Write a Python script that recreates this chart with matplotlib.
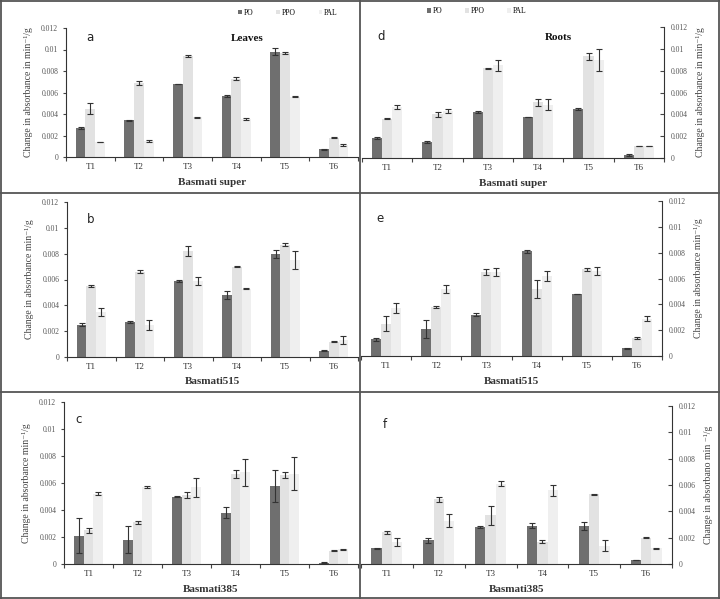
import numpy as np
import matplotlib.pyplot as plt
from matplotlib.lines import Line2D

treatments = ['T1', 'T2', 'T3', 'T4', 'T5', 'T6']
series = ['PO', 'PPO', 'PAL']
yticks = [0, 0.002, 0.004, 0.006, 0.008, 0.01, 0.012]
ytick_labels = ['0', '0.002', '0.004', '0.006', '0.008', '0.01', '0.012']

# a: leaves, Basmati super
a_po = [0.0027, 0.0034, 0.0068, 0.0057, 0.0098, 0.0007]
a_ppo = [0.0045, 0.0069, 0.0094, 0.0073, 0.0097, 0.0018]
a_pal = [0.0014, 0.0015, 0.0037, 0.0035, 0.0056, 0.0011]
a_po_err = [0.0001, 0.00003, 0.00003, 0.0001, 0.0003, 0.00003]
a_ppo_err = [0.0005, 0.0002, 0.0001, 0.0001, 0.0001, 0.00005]
a_pal_err = [0.00003, 0.0001, 0.00005, 0.0001, 0.00003, 0.0001]

# b: leaves, Basmati515
b_po = [0.0025, 0.0027, 0.0059, 0.0048, 0.0080, 0.0005]
b_ppo = [0.0055, 0.0066, 0.0082, 0.0070, 0.0087, 0.0012]
b_pal = [0.0035, 0.0025, 0.0059, 0.0053, 0.0075, 0.0013]
b_po_err = [0.0001, 0.0001, 0.0001, 0.0003, 0.0003, 0.00003]
b_ppo_err = [0.0001, 0.0001, 0.0004, 0.00003, 0.0001, 0.00005]
b_pal_err = [0.0003, 0.0004, 0.0003, 0.00003, 0.0007, 0.0003]

# c: leaves, Basmati385
c_po = [0.0021, 0.0018, 0.0050, 0.0038, 0.0058, 0.0001]
c_ppo = [0.0025, 0.0031, 0.0051, 0.0067, 0.0066, 0.0010]
c_pal = [0.0052, 0.0057, 0.0057, 0.0068, 0.0067, 0.0011]
c_po_err = [0.0013, 0.0010, 0.00003, 0.0004, 0.0012, 0.00003]
c_ppo_err = [0.0002, 0.0001, 0.0002, 0.0003, 0.0002, 0.00003]
c_pal_err = [0.0001, 0.00005, 0.0007, 0.0010, 0.0012, 0.00003]

# d: roots, Basmati super
d_po = [0.0018, 0.0015, 0.0042, 0.0038, 0.0045, 0.0003]
d_ppo = [0.0036, 0.0040, 0.0082, 0.0051, 0.0093, 0.0011]
d_pal = [0.0047, 0.0043, 0.0085, 0.0049, 0.0090, 0.0011]
d_po_err = [0.0001, 0.0001, 0.0001, 0.0, 0.0001, 0.0001]
d_ppo_err = [0.00003, 0.0002, 0.00005, 0.0003, 0.0003, 0.00003]
d_pal_err = [0.0002, 0.0002, 0.0005, 0.0005, 0.0010, 0.00003]

# e: roots, Basmati515
e_po = [0.0013, 0.0021, 0.0032, 0.0081, 0.0048, 0.0006]
e_ppo = [0.0025, 0.0038, 0.0065, 0.0052, 0.0067, 0.0014]
e_pal = [0.0037, 0.0052, 0.0065, 0.0062, 0.0066, 0.0029]
e_po_err = [0.0001, 0.0007, 0.0001, 0.0001, 0.00003, 0.00003]
e_ppo_err = [0.0006, 0.0001, 0.0002, 0.0007, 0.0001, 0.0001]
e_pal_err = [0.0004, 0.0003, 0.0003, 0.0004, 0.0003, 0.0002]

# f: roots, Basmati385
f_po = [0.0012, 0.0018, 0.0028, 0.0029, 0.0029, 0.0003]
f_ppo = [0.0024, 0.0049, 0.0037, 0.0017, 0.0053, 0.0020]
f_pal = [0.0017, 0.0033, 0.0061, 0.0056, 0.0014, 0.0012]
f_po_err = [0.00003, 0.0002, 0.0001, 0.0002, 0.0003, 0.00003]
f_ppo_err = [0.0001, 0.0002, 0.0007, 0.0001, 0.00005, 0.00003]
f_pal_err = [0.0003, 0.0005, 0.0002, 0.0004, 0.0004, 0.00003]

colors = ['#6f6f6f', '#e2e2e2', '#efefef']
W, H = 720, 599
plt.rcParams['font.family'] = ['Liberation Serif', 'DejaVu Serif']

fig = plt.figure(figsize=(7.2, 5.99), dpi=100)


def add_ax(left, right, top, bottom):
    # pixel box -> figure fraction
    return fig.add_axes([left / W, 1 - bottom / H, (right - left) / W, (bottom - top) / H])


def draw(ax, vals, errs, letter, xlabel, ylabel, side, title=None, legend_xy=None):
    x = np.arange(len(treatments))
    w = 0.2
    for i, (v, e) in enumerate(zip(vals, errs)):
        ax.bar(x + (i - 1) * w, v, w, color=colors[i], label=series[i],
               yerr=e, error_kw=dict(ecolor='#333333', elinewidth=0.8, capsize=2, capthick=0.8))
    ax.set_xlim(-0.5, len(treatments) - 0.5)
    ax.set_ylim(0, 0.012)
    ax.set_xticks(x)
    ax.set_xticklabels(treatments, fontsize=6.5, color='#333333')
    ax.set_xticks(np.arange(len(treatments) + 1) - 0.5, minor=True)
    ax.tick_params(axis='x', which='major', length=0, pad=4)
    ax.tick_params(axis='x', which='minor', length=3, color='#444444', width=0.8)
    ax.set_yticks(yticks)
    ax.set_yticklabels(ytick_labels, fontsize=5.5, color='#555555')
    for s in ['top', 'left', 'right']:
        ax.spines[s].set_visible(False)
    ax.spines['bottom'].set_color('#333333')
    ax.spines[side].set_visible(True)
    ax.spines[side].set_color('#333333')
    if side == 'right':
        ax.yaxis.tick_right()
        ax.yaxis.set_label_position('right')
        ax.tick_params(axis='y', direction='in', length=3, color='#444444', pad=5)
        ax.set_ylabel(ylabel, fontsize=7, color='#444444', rotation=90, labelpad=6)
    else:
        ax.tick_params(axis='y', direction='out', length=2, color='#444444')
        ax.set_ylabel(ylabel, fontsize=7, color='#444444', labelpad=6)
    ax.set_xlabel(xlabel, fontsize=8, fontweight='bold', color='#333333', labelpad=5)
    ax.text(letter[1], letter[2], letter[0], transform=ax.transAxes, fontsize=8.5,
            family='DejaVu Sans', color='#222222', va='center')
    if title:
        ax.text(title[1], title[2], title[0], transform=ax.transAxes, fontsize=8,
                fontweight='bold', ha='center', va='center', color='#111111')
    if legend_xy:
        ax.legend(loc='center', bbox_to_anchor=legend_xy, ncol=3, frameon=False,
                  fontsize=5.5, handlelength=0.5, handleheight=0.5, columnspacing=3.0,
                  handletextpad=0.2)


ylab1 = 'Change in absorbance in min\u207b\u00b9/g'
ylab2 = 'Change in absorbance min\u207b\u00b9/g'
ylab3 = 'Change in absorbano min \u207b\u00b9/g'

ax_a = add_ax(66, 358, 28, 157)
draw(ax_a, [a_po, a_ppo, a_pal], [a_po_err, a_ppo_err, a_pal_err], ('a', 0.07, 0.93),
     'Basmati super', ylab1, 'left', title=('Leaves', 0.62, 0.92), legend_xy=(0.76, 1.12))

ax_b = add_ax(67, 358, 202, 357)
draw(ax_b, [b_po, b_ppo, b_pal], [b_po_err, b_ppo_err, b_pal_err], ('b', 0.07, 0.89),
     'Basmati515', ylab2, 'left')

ax_c = add_ax(64, 358, 402, 564)
draw(ax_c, [c_po, c_ppo, c_pal], [c_po_err, c_ppo_err, c_pal_err], ('c', 0.04, 0.89),
     'Basmati385', ylab2, 'left')

ax_d = add_ax(362, 664, 27, 158)
draw(ax_d, [d_po, d_ppo, d_pal], [d_po_err, d_ppo_err, d_pal_err], ('d', 0.05, 0.93),
     'Basmati super', ylab1, 'right', title=('Roots', 0.65, 0.92), legend_xy=(0.38, 1.12))

ax_e = add_ax(361, 662, 201, 356)
draw(ax_e, [e_po, e_ppo, e_pal], [e_po_err, e_ppo_err, e_pal_err], ('e', 0.05, 0.89),
     'Basmati515', ylab2, 'right')

ax_f = add_ax(361, 672, 406, 564)
draw(ax_f, [f_po, f_ppo, f_pal], [f_po_err, f_ppo_err, f_pal_err], ('f', 0.07, 0.88),
     'Basmati385', ylab3, 'right')

# panel frame lines
lc = '#555555'
for xs, ys in [([1 / W, 1 / W], [0, 1]), ([719 / W, 719 / W], [0, 1]),
               ([0, 1], [1 - 1 / H, 1 - 1 / H]), ([0, 1], [1 / H, 1 / H]),
               ([360 / W, 360 / W], [0, 1]),
               ([0, 1], [1 - 193 / H, 1 - 193 / H]), ([0, 1], [1 - 392 / H, 1 - 392 / H])]:
    fig.add_artist(Line2D(xs, ys, color=lc, linewidth=1.3, transform=fig.transFigure))

fig.savefig('out.png', dpi=100)
